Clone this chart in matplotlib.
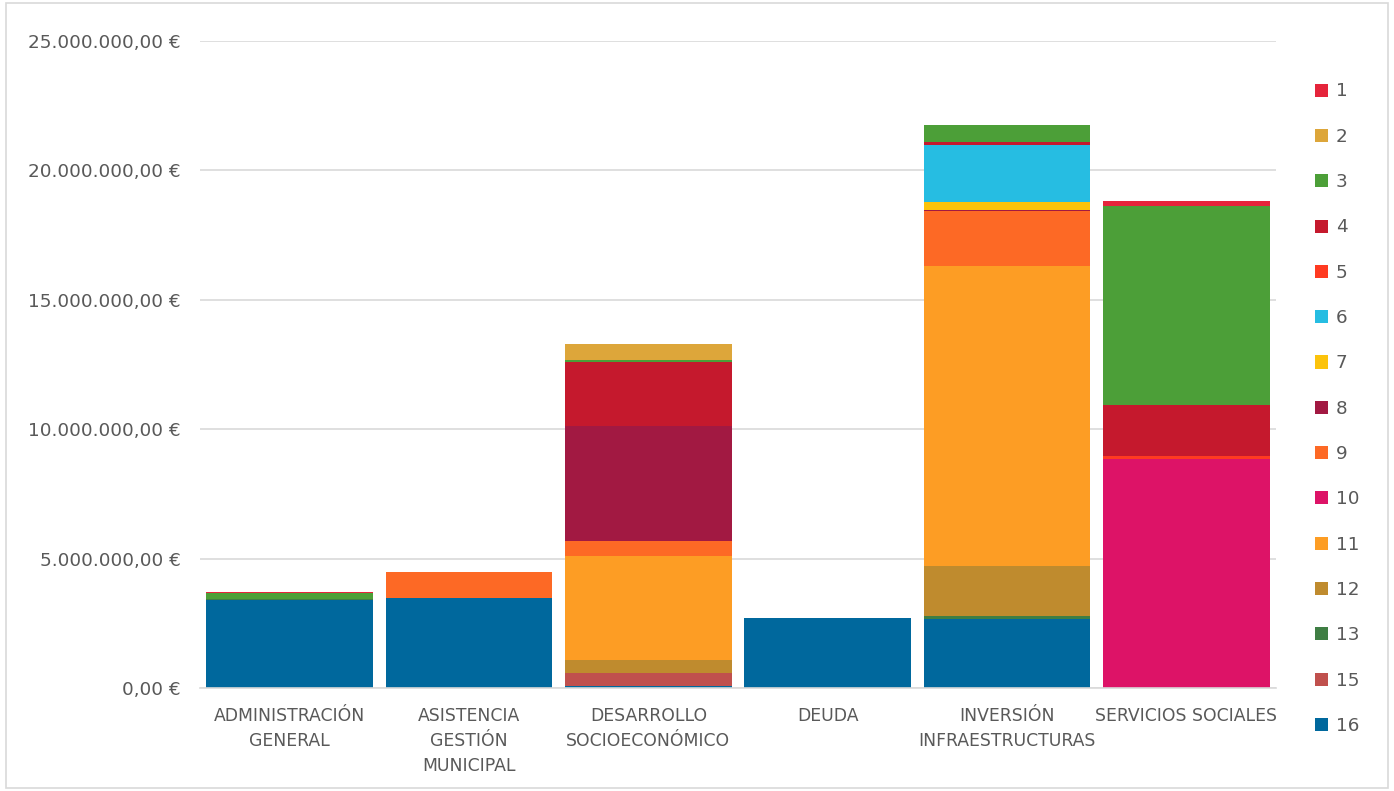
import matplotlib.pyplot as plt
import numpy as np
from matplotlib.patches import Patch, Rectangle
from matplotlib.ticker import FuncFormatter

# Categories (x axis)
categories = ["ADMINISTRACIÓN\nGENERAL", "ASISTENCIA\nGESTIÓN\nMUNICIPAL",
              "DESARROLLO\nSOCIOECONÓMICO", "DEUDA",
              "INVERSIÓN\nINFRAESTRUCTURAS", "SERVICIOS SOCIALES"]

# Series (ODS number) in legend order, values in millions of euros per category
series = ["1", "2", "3", "4", "5", "6", "7", "8", "9", "10", "11", "12", "13", "15", "16"]
colors = ["#E5243B", "#DDA63A", "#4C9F38", "#C5192D", "#FF3A21", "#26BDE2", "#FCC30B",
          "#A21942", "#FD6925", "#DD1367", "#FD9D24", "#BF8B2E", "#3F7E44", "#C0504D", "#00689D"]

s1 = [0.03, 0.00, 0.00, 0.00, 0.00, 0.18]
s2 = [0.00, 0.00, 0.62, 0.00, 0.00, 0.00]
s3 = [0.25, 0.00, 0.08, 0.00, 0.66, 7.71]
s4 = [0.00, 0.00, 2.48, 0.00, 0.11, 1.97]
s5 = [0.00, 0.00, 0.00, 0.00, 0.00, 0.10]
s6 = [0.00, 0.00, 0.00, 0.00, 2.20, 0.00]
s7 = [0.00, 0.00, 0.00, 0.00, 0.31, 0.00]
s8 = [0.00, 0.00, 4.43, 0.00, 0.05, 0.00]
s9 = [0.00, 1.00, 0.59, 0.00, 2.13, 0.00]
s10 = [0.00, 0.00, 0.00, 0.00, 0.00, 8.86]
s11 = [0.00, 0.00, 4.00, 0.00, 11.56, 0.00]
s12 = [0.00, 0.00, 0.52, 0.00, 1.96, 0.00]
s13 = [0.02, 0.00, 0.00, 0.00, 0.10, 0.00]
s15 = [0.00, 0.00, 0.48, 0.00, 0.00, 0.00]
s16 = [3.40, 3.49, 0.09, 2.70, 2.67, 0.00]

values = [s1, s2, s3, s4, s5, s6, s7, s8, s9, s10, s11, s12, s13, s15, s16]

fig = plt.figure(figsize=(13.94, 7.91), dpi=100)
ax = fig.add_axes([200 / 1394, 103 / 791, 1076 / 1394, 647 / 791])

x = np.arange(len(categories))
bottom = np.zeros(len(categories))
# stack from 16 (bottom) up to 1 (top)
for name, vals, col in reversed(list(zip(series, values, colors))):
    v = np.array(vals) * 1e6
    ax.bar(x, v, bottom=bottom, width=0.93, color=col, edgecolor="none")
    bottom += v

ax.set_xlim(-0.5, len(categories) - 0.5)
ax.set_ylim(0, 25e6)
ax.set_yticks(np.arange(0, 25e6 + 1, 5e6))


def euro(val, pos):
    s = f"{val:,.2f}".replace(",", "X").replace(".", ",").replace("X", ".")
    return s + " €"


ax.yaxis.set_major_formatter(FuncFormatter(euro))
ax.set_xticks(x)
ax.set_xticklabels(categories, linespacing=1.5, fontsize=12.4)
ax.tick_params(axis="both", length=0, labelsize=13.2, colors="#595959")
ax.tick_params(axis="x", labelsize=12.4, pad=14)
ax.tick_params(axis="y", pad=14)
ax.grid(axis="y", color="#d9d9d9", linewidth=1.2)
ax.set_axisbelow(True)
for side in ["top", "right", "left"]:
    ax.spines[side].set_visible(False)
ax.spines["bottom"].set_color("#d9d9d9")
ax.spines["bottom"].set_linewidth(1.2)

handles = [Patch(facecolor=c, label=n) for n, c in zip(series, colors)]
fig.legend(handles=handles, loc="upper left", bbox_to_anchor=(1298 / 1394, 1 - 66 / 791),
           frameon=False, fontsize=13.2, labelcolor="#595959", labelspacing=1.49,
           handlelength=0.72, handleheight=0.72, handletextpad=0.45)

fig.patches.append(Rectangle((0.004, 0.004), 0.992, 0.992, transform=fig.transFigure,
                             fill=False, edgecolor="#d9d9d9", linewidth=1.2))

fig.savefig("out.png", dpi=100)
